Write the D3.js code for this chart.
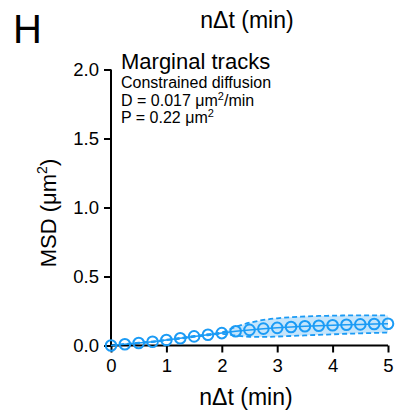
<!DOCTYPE html>
<html>
<head>
<meta charset="utf-8">
<script src="https://cdn.jsdelivr.net/npm/d3@7"></script>
<style>
  body { margin: 0; background: #fff; }
  text { font-family: "Liberation Sans", Arial, sans-serif; fill: #000; }
</style>
</head>
<body>
<script>
// lag times (min)
var lagTimes = [0, 0.25, 0.5, 0.75, 1, 1.25, 1.5, 1.75, 2, 2.25, 2.5, 2.75, 3,
    3.25, 3.5, 3.75, 4, 4.25, 4.5, 4.75, 5];
// mean MSD (um^2)
var msdMean = [0, 0.009, 0.018, 0.027, 0.040, 0.052, 0.066, 0.078, 0.090, 0.103,
    0.113, 0.122, 0.128, 0.134, 0.139, 0.143, 0.147, 0.150, 0.153, 0.156, 0.158];
// confidence band
var msdUpper = [0, 0.010, 0.020, 0.029, 0.042, 0.055, 0.069, 0.082, 0.095, 0.135,
    0.165, 0.185, 0.197, 0.205, 0.210, 0.214, 0.216, 0.218, 0.219, 0.219, 0.218];
var msdLower = [0, 0.008, 0.016, 0.025, 0.038, 0.049, 0.063, 0.074, 0.085, 0.072,
    0.063, 0.062, 0.065, 0.069, 0.073, 0.077, 0.081, 0.085, 0.088, 0.091, 0.094];

var xTicks = [0, 1, 2, 3, 4, 5];
var yTicks = [0, 0.5, 1.0, 1.5, 2.0];

var blue = "#1b9bf5";

var svg = d3.select("body")
    .append("svg")
    .attr("width", 401)
    .attr("height", 413);

var x = d3.scaleLinear().domain([0, 5]).range([111, 388]);
var y = d3.scaleLinear().domain([0, 2]).range([345.5, 69.5]);

var pts = lagTimes.map(function(t, i){
    return { t: t, m: msdMean[i], lo: msdLower[i], hi: msdUpper[i] };
});

// panel letter
svg.append("text")
    .attr("x", 13)
    .attr("y", 43)
    .attr("font-size", 40)
    .text("H");

// leftover label of the panel above
svg.append("text")
    .attr("x", 247)
    .attr("y", 28)
    .attr("text-anchor", "middle")
    .attr("font-size", 23)
    .text("n\u0394t (min)");

// band
var area = d3.area()
    .x(d => x(d.t))
    .y0(d => y(d.lo))
    .y1(d => y(d.hi))
    .curve(d3.curveMonotoneX);

svg.append("path")
    .datum(pts)
    .attr("d", area)
    .attr("fill", "#c6e5fb")
    .attr("stroke", "none");

var upperLine = d3.line().x(d => x(d.t)).y(d => y(d.hi)).curve(d3.curveMonotoneX);
var lowerLine = d3.line().x(d => x(d.t)).y(d => y(d.lo)).curve(d3.curveMonotoneX);

[upperLine, lowerLine].forEach(function(l){
    svg.append("path")
        .datum(pts)
        .attr("d", l)
        .attr("fill", "none")
        .attr("stroke", blue)
        .attr("stroke-width", 1.8)
        .attr("stroke-dasharray", "5,3");
});

// axes
var xAxis = svg.append("g")
    .attr("transform", "translate(0," + y(0) + ")")
    .call(d3.axisBottom(x).tickValues(xTicks).tickFormat(d3.format("d")).tickSize(7).tickPadding(6));

var yAxis = svg.append("g")
    .attr("transform", "translate(" + x(0) + ",0)")
    .call(d3.axisLeft(y).tickValues(yTicks).tickFormat(d3.format(".1f")).tickSize(7).tickPadding(5));

[xAxis, yAxis].forEach(function(g){
    g.select(".domain").attr("stroke", "#000").attr("stroke-width", 2)
        .attr("d", g === xAxis ? "M" + x(0) + ",0H" + x(5) : "M0," + y(0) + "V" + y(2));
    g.selectAll(".tick line").attr("stroke", "#000").attr("stroke-width", 2);
    g.selectAll(".tick text")
        .attr("font-size", 18.5)
        .attr("fill", "#000");
});

// mean line + circles
svg.append("path")
    .datum(pts)
    .attr("d", d3.line().x(d => x(d.t)).y(d => y(d.m)))
    .attr("fill", "none")
    .attr("stroke", blue)
    .attr("stroke-width", 1.5);

svg.selectAll(".pt")
    .data(pts)
    .enter()
    .append("circle")
    .attr("class", "pt")
    .attr("cx", d => x(d.t))
    .attr("cy", d => y(d.m))
    .attr("r", 5.3)
    .attr("fill", "none")
    .attr("stroke", blue)
    .attr("stroke-width", 2);

// axis titles
svg.append("text")
    .attr("x", 246)
    .attr("y", 405)
    .attr("text-anchor", "middle")
    .attr("font-size", 23)
    .text("n\u0394t (min)");

var yl = svg.append("text")
    .attr("transform", "translate(56,213) rotate(-90)")
    .attr("text-anchor", "middle")
    .attr("font-size", 22);
yl.append("tspan").text("MSD (\u03bcm");
yl.append("tspan").attr("font-size", 14).attr("dy", -9).text("2");
yl.append("tspan").attr("dy", 9).text(")");

// annotation
svg.append("text")
    .attr("x", 121)
    .attr("y", 69)
    .attr("font-size", 22)
    .text("Marginal tracks");

svg.append("text")
    .attr("x", 121)
    .attr("y", 88)
    .attr("font-size", 16)
    .text("Constrained diffusion");

var dl = svg.append("text")
    .attr("x", 121)
    .attr("y", 105.5)
    .attr("font-size", 16);
dl.append("tspan").text("D = 0.017 \u03bcm");
dl.append("tspan").attr("font-size", 11).attr("dy", -6).text("2");
dl.append("tspan").attr("dy", 6).text("/min");

var pl = svg.append("text")
    .attr("x", 121)
    .attr("y", 123)
    .attr("font-size", 16);
pl.append("tspan").text("P = 0.22 \u03bcm");
pl.append("tspan").attr("font-size", 11).attr("dy", -6).text("2");
</script>
</body>
</html>
